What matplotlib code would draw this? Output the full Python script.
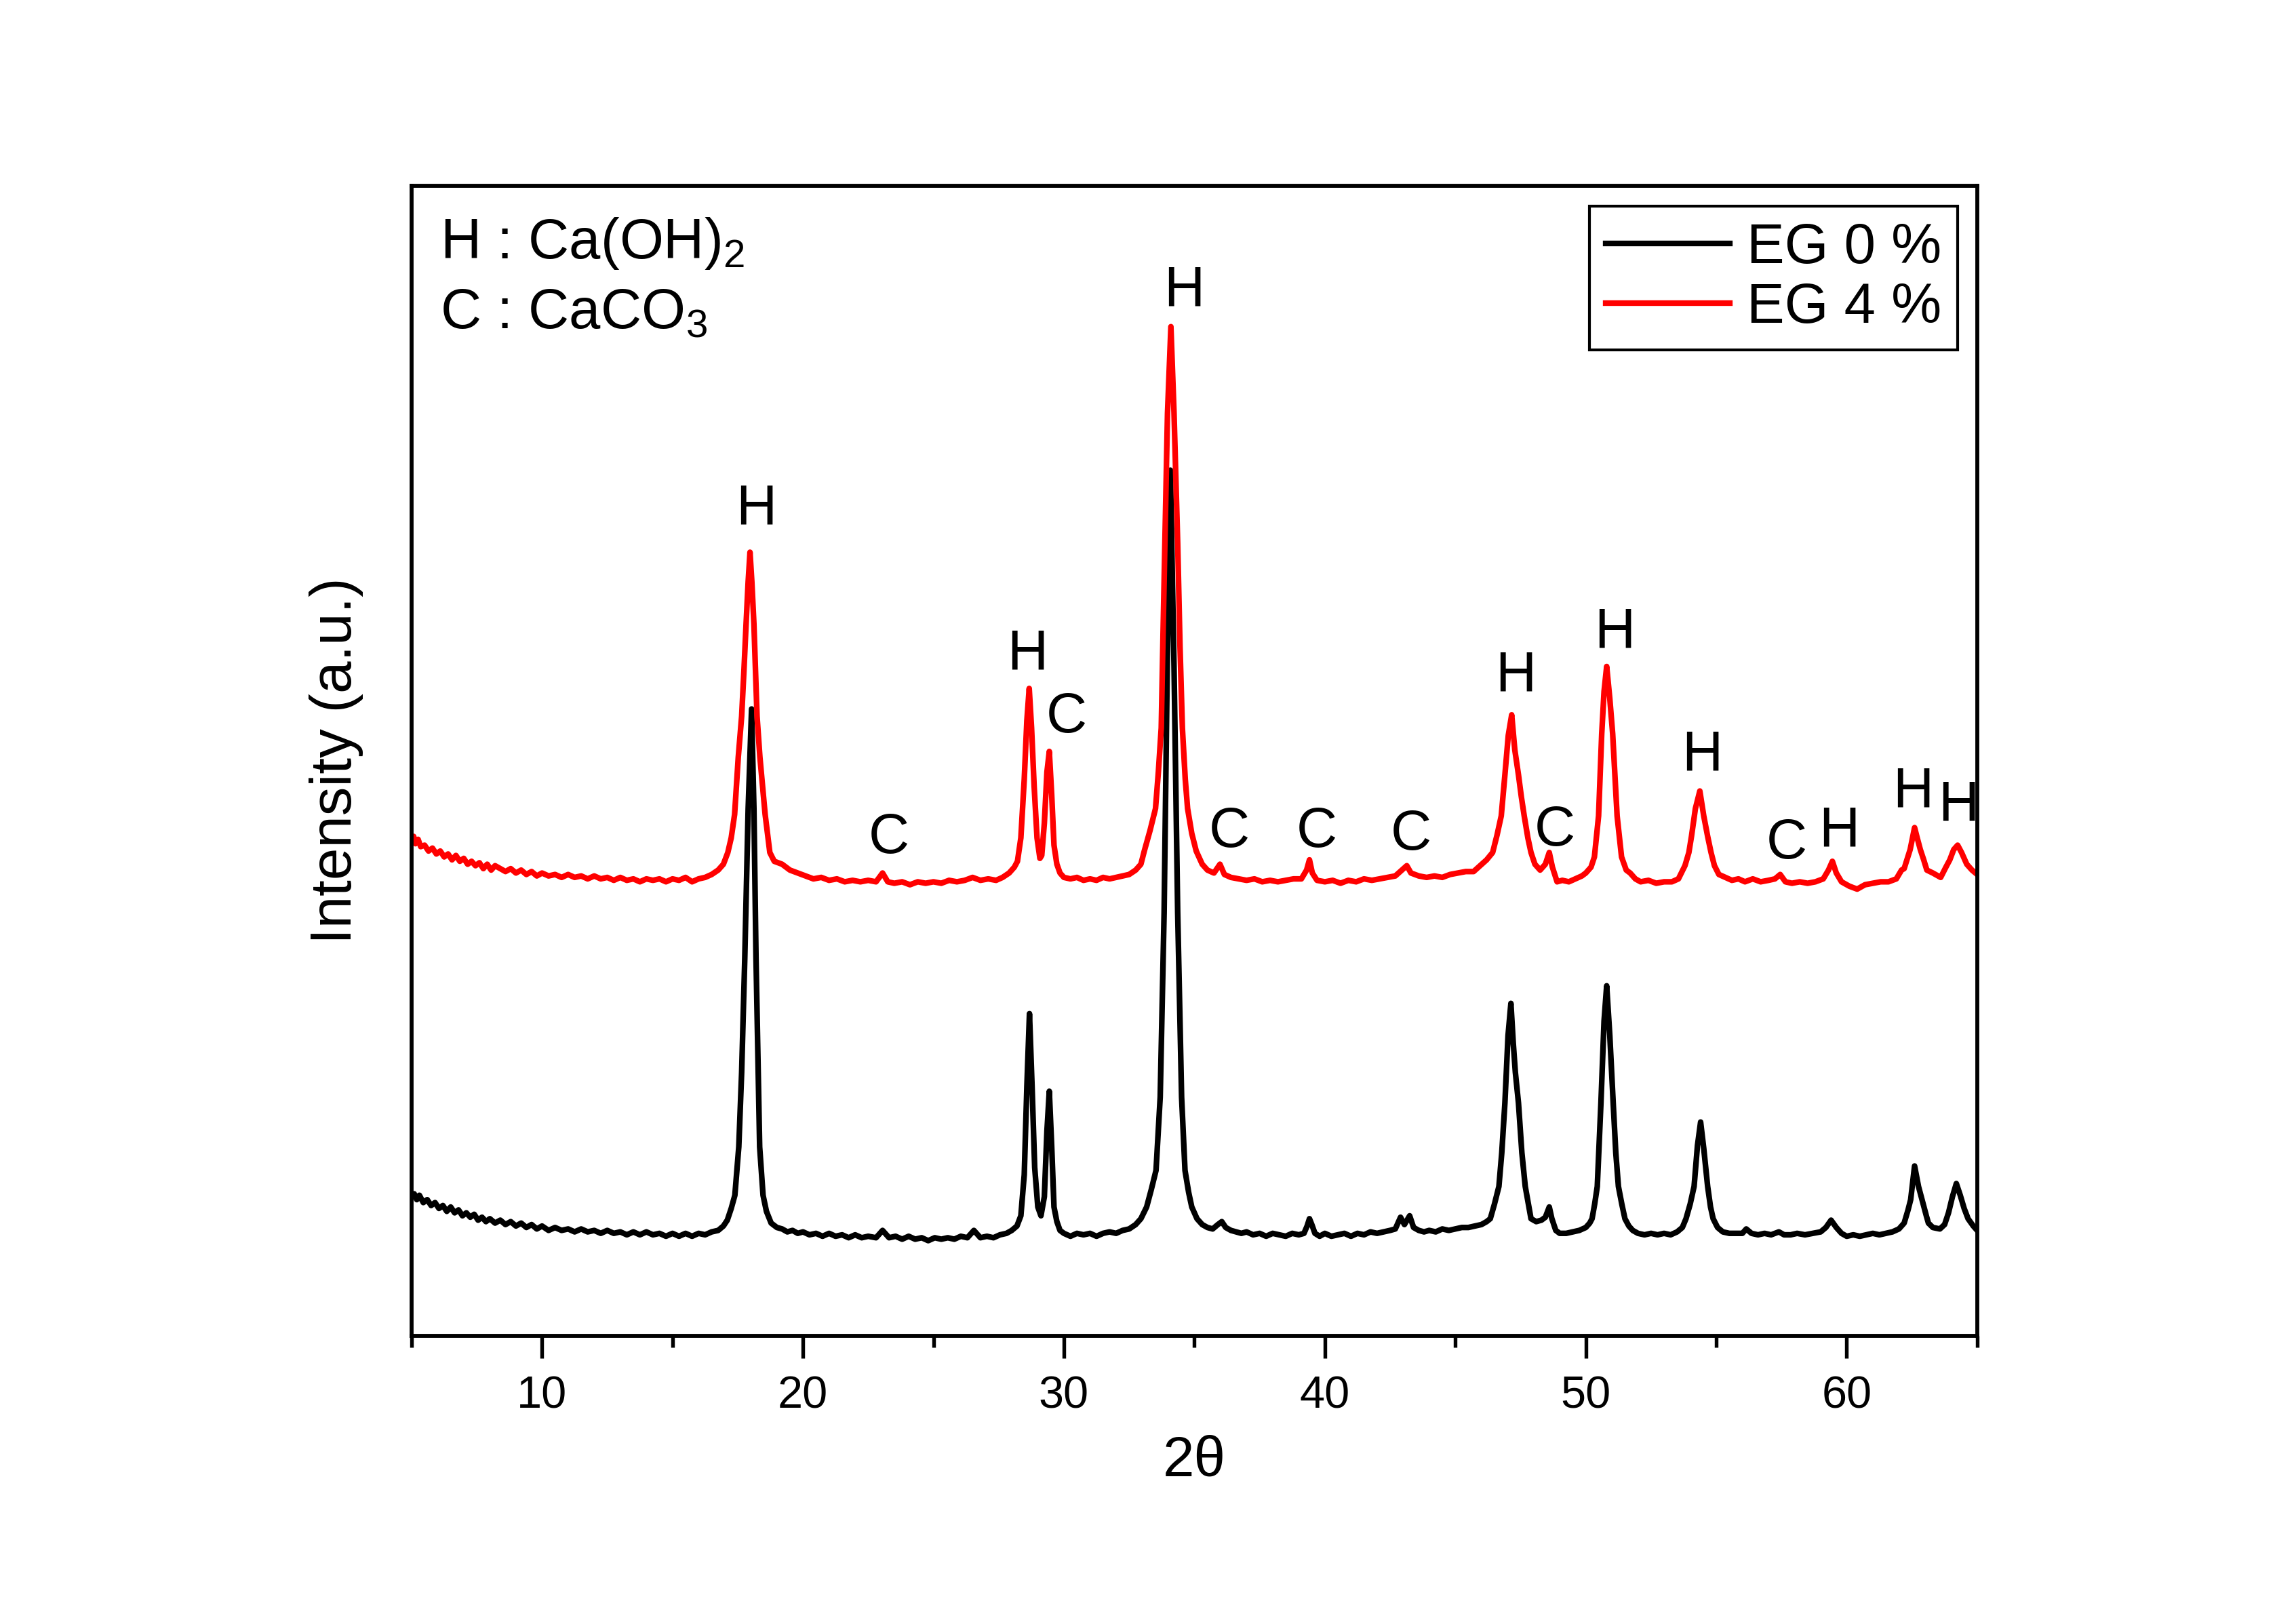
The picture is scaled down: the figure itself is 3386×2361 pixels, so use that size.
import matplotlib
matplotlib.use("Agg")
import matplotlib.pyplot as plt
from matplotlib.ticker import MultipleLocator

plt.rcParams['font.family'] = ['Liberation Sans', 'DejaVu Sans']
plt.rcParams['mathtext.fontset'] = 'custom'
plt.rcParams['mathtext.rm'] = 'Liberation Sans'

# ---- data (2theta, intensity in arbitrary units) ----
eg0_x = [5.00, 5.10, 5.20, 5.30, 5.45, 5.60, 5.75, 5.90, 6.05, 6.20, 6.35, 6.50, 6.65, 6.80, 6.95,
         7.10, 7.25, 7.40, 7.55, 7.70, 7.85, 8.00, 8.20, 8.40, 8.60, 8.80, 9.00, 9.20, 9.40, 9.60,
         9.80, 10.00, 10.25, 10.50, 10.75, 11.00, 11.25, 11.50, 11.75, 12.00, 12.25, 12.50, 12.75,
         13.00, 13.25, 13.50, 13.75, 14.00, 14.25, 14.50, 14.75, 15.00, 15.25, 15.50, 15.75, 16.00,
         16.25, 16.50, 16.75, 16.95, 17.10, 17.25, 17.39, 17.54, 17.65, 17.77, 17.90, 18.03, 18.12,
         18.20, 18.34, 18.47, 18.60, 18.78, 19.00, 19.20, 19.40, 19.60, 19.80, 20.00, 20.25, 20.50,
         20.75, 21.00, 21.25, 21.50, 21.75, 22.00, 22.25, 22.50, 22.80, 23.05, 23.30, 23.55, 23.80,
         24.05, 24.30, 24.55, 24.80, 25.05, 25.30, 25.55, 25.80, 26.05, 26.30, 26.55, 26.80, 27.05,
         27.30, 27.55, 27.80, 28.00, 28.20, 28.35, 28.48, 28.58, 28.68, 28.78, 28.88, 29.00, 29.12,
         29.25, 29.35, 29.44, 29.53, 29.62, 29.73, 29.85, 30.00, 30.25, 30.50, 30.75, 31.00, 31.25,
         31.50, 31.75, 32.00, 32.25, 32.50, 32.75, 32.95, 33.17, 33.35, 33.53, 33.69, 33.84, 33.96,
         34.08, 34.22, 34.36, 34.51, 34.64, 34.78, 34.90, 35.10, 35.30, 35.50, 35.70, 35.90, 36.05,
         36.20, 36.40, 36.60, 36.80, 37.00, 37.25, 37.50, 37.75, 38.00, 38.25, 38.50, 38.75, 39.00,
         39.20, 39.32, 39.41, 39.50, 39.62, 39.80, 40.00, 40.25, 40.50, 40.75, 41.00, 41.25, 41.50,
         41.75, 42.00, 42.25, 42.50, 42.70, 42.90, 43.05, 43.25, 43.40, 43.60, 43.80, 44.00, 44.25,
         44.50, 44.75, 45.00, 45.25, 45.50, 45.75, 46.00, 46.20, 46.34, 46.50, 46.67, 46.78, 46.90,
         47.02, 47.13, 47.22, 47.30, 47.42, 47.55, 47.68, 47.80, 47.90, 48.10, 48.30, 48.45, 48.60,
         48.70, 48.85, 49.00, 49.25, 49.50, 49.75, 50.00, 50.15, 50.24, 50.34, 50.44, 50.58, 50.70,
         50.80, 50.92, 51.05, 51.15, 51.25, 51.38, 51.50, 51.65, 51.80, 52.00, 52.25, 52.50, 52.75,
         53.00, 53.25, 53.50, 53.70, 53.84, 54.00, 54.15, 54.28, 54.40, 54.52, 54.67, 54.78, 54.88,
         55.05, 55.25, 55.50, 55.75, 56.00, 56.15, 56.35, 56.60, 56.85, 57.10, 57.40, 57.60, 57.85,
         58.10, 58.40, 58.70, 59.00, 59.20, 59.40, 59.60, 59.80, 60.00, 60.25, 60.50, 60.75, 61.00,
         61.25, 61.50, 61.75, 62.00, 62.20, 62.35, 62.45, 62.60, 62.75, 62.90, 63.05, 63.13, 63.30,
         63.57, 63.75, 63.90, 64.05, 64.20, 64.35, 64.50, 64.65, 64.85, 65.00]
eg0_y = [95, 97, 93, 96, 91, 93, 89, 91, 87, 89, 85, 88, 84, 86, 82,
         84, 81, 83, 79, 81, 78, 80, 77, 79, 76, 78, 75, 77, 74, 76,
         73, 75, 72, 74, 72, 73, 71, 73, 71, 72, 70, 72, 70,
         71, 69, 71, 69, 71, 69, 70, 68, 70, 68, 70, 68, 70,
         69, 71, 72, 75, 79, 87, 96, 129, 180, 258, 360, 428, 360,
         258, 129, 96, 85, 77, 74, 73, 71, 72, 70, 71, 69, 70,
         68, 70, 68, 69, 67, 69, 67, 68, 67, 72, 67, 68, 66,
         68, 66, 67, 65, 67, 66, 67, 66, 68, 67, 72, 67, 68,
         67, 69, 70, 72, 75, 82, 110, 170, 220, 170, 115, 88, 82,
         95, 140, 167, 130, 88, 78, 72, 70, 68, 70, 69, 70, 68,
         70, 71, 70, 72, 73, 76, 80, 88, 100, 113, 163, 289, 457,
         591, 457, 289, 163, 113, 98, 88, 80, 76, 74, 73, 76, 78,
         74, 72, 71, 70, 71, 69, 70, 68, 70, 69, 68, 70, 69,
         70, 75, 80, 76, 70, 68, 70, 68, 69, 70, 68, 70, 69,
         71, 70, 71, 72, 73, 81, 76, 82, 74, 72, 71, 72, 71,
         73, 72, 73, 74, 74, 75, 76, 78, 80, 90, 102, 125, 159,
         205, 227, 200, 180, 159, 125, 102, 90, 80, 78, 79, 81, 88,
         80, 72, 70, 70, 71, 72, 74, 77, 80, 90, 102, 159, 215,
         239, 205, 159, 125, 102, 90, 80, 75, 72, 70, 69, 70, 69,
         70, 69, 71, 74, 80, 90, 102, 130, 146, 128, 102, 88, 80,
         74, 71, 70, 70, 70, 73, 70, 69, 70, 69, 71, 69, 69,
         70, 69, 70, 71, 74, 79, 74, 70, 68, 69, 68, 69, 70,
         69, 70, 71, 73, 77, 86, 93, 116, 102, 92, 82, 77, 74,
         73, 76, 84, 95, 104, 96, 87, 80, 75, 72]

eg4_x = [5.00, 5.08, 5.15, 5.25, 5.35, 5.50, 5.65, 5.80, 5.95, 6.10, 6.25, 6.40, 6.55, 6.70, 6.85,
         7.00, 7.15, 7.30, 7.45, 7.60, 7.75, 7.90, 8.05, 8.20, 8.40, 8.60, 8.80, 9.00, 9.20, 9.40,
         9.60, 9.80, 10.00, 10.25, 10.50, 10.75, 11.00, 11.25, 11.50, 11.75, 12.00, 12.25, 12.50,
         12.75, 13.00, 13.25, 13.50, 13.75, 14.00, 14.25, 14.50, 14.75, 15.00, 15.25, 15.50, 15.75,
         16.00, 16.25, 16.50, 16.75, 16.95, 17.12, 17.25, 17.38, 17.52, 17.65, 17.74, 17.82, 17.90,
         17.97, 18.04, 18.12, 18.18, 18.24, 18.35, 18.55, 18.73, 18.90, 19.20, 19.50, 19.80, 20.10,
         20.40, 20.70, 21.00, 21.30, 21.60, 21.90, 22.20, 22.50, 22.80, 23.05, 23.25, 23.50, 23.80,
         24.10, 24.40, 24.70, 25.00, 25.30, 25.60, 25.90, 26.20, 26.50, 26.80, 27.10, 27.40, 27.65,
         27.90, 28.10, 28.22, 28.35, 28.48, 28.58, 28.67, 28.76, 28.86, 28.97, 29.08, 29.15, 29.25,
         29.35, 29.44, 29.53, 29.62, 29.73, 29.85, 30.00, 30.25, 30.50, 30.75, 31.00, 31.25, 31.50,
         31.75, 32.00, 32.25, 32.50, 32.75, 32.95, 33.08, 33.30, 33.51, 33.62, 33.73, 33.80, 33.87,
         33.97, 34.10, 34.22, 34.36, 34.45, 34.54, 34.65, 34.74, 34.90, 35.07, 35.30, 35.50, 35.75,
         35.98, 36.15, 36.40, 36.70, 37.00, 37.30, 37.60, 37.90, 38.20, 38.50, 38.80, 39.10, 39.30,
         39.41, 39.52, 39.70, 40.00, 40.30, 40.60, 40.90, 41.20, 41.50, 41.80, 42.10, 42.40, 42.70,
         42.95, 43.14, 43.30, 43.60, 43.90, 44.20, 44.50, 44.80, 45.10, 45.40, 45.70, 45.95, 46.20,
         46.43, 46.60, 46.76, 46.90, 47.03, 47.16, 47.28, 47.42, 47.53, 47.64, 47.78, 47.90, 48.05,
         48.25, 48.45, 48.60, 48.72, 48.90, 49.10, 49.35, 49.60, 49.85, 50.00, 50.20, 50.33, 50.49,
         50.61, 50.70, 50.80, 50.92, 51.03, 51.20, 51.37, 51.55, 51.70, 51.90, 52.10, 52.40, 52.70,
         53.00, 53.30, 53.55, 53.80, 53.95, 54.05, 54.20, 54.37, 54.52, 54.67, 54.80, 54.93, 55.10,
         55.35, 55.60, 55.85, 56.10, 56.40, 56.70, 57.00, 57.25, 57.45, 57.65, 57.90, 58.20, 58.50,
         58.80, 59.10, 59.30, 59.45, 59.60, 59.80, 60.10, 60.40, 60.70, 61.00, 61.30, 61.60, 61.90,
         62.10, 62.20, 62.43, 62.60, 62.70, 62.82, 62.95, 63.07, 63.30, 63.60, 63.80, 63.95, 64.10,
         64.25, 64.40, 64.60, 64.80, 65.00]
eg4_y = [338, 341, 336, 339, 334, 335, 331, 333, 329, 331, 327, 329, 325, 328, 324,
         326, 322, 324, 321, 323, 319, 322, 318, 321, 319, 317, 319, 316, 318, 315,
         317, 314, 316, 314, 315, 313, 315, 313, 314, 312, 314, 312, 313,
         311, 313, 311, 312, 310, 312, 311, 312, 310, 312, 311, 313, 310,
         312, 313, 315, 318, 322, 330, 340, 356, 395, 423, 455, 486, 515,
         535, 515, 486, 455, 423, 395, 356, 330, 324, 322, 318, 316, 314,
         312, 313, 311, 312, 310, 311, 310, 311, 310, 316, 310, 309, 310,
         308, 310, 309, 310, 309, 311, 310, 311, 313, 311, 312, 311, 313,
         316, 320, 324, 340, 380, 420, 442, 415, 375, 340, 326, 328, 350,
         385, 399, 370, 335, 322, 316, 313, 312, 313, 311, 312, 311, 313,
         312, 313, 314, 315, 318, 322, 331, 345, 360, 385, 415, 480, 541,
         630, 689, 630, 541, 470, 415, 380, 360, 343, 331, 322, 318, 316,
         322, 315, 313, 312, 311, 312, 310, 311, 310, 311, 312, 312, 318,
         325, 316, 311, 310, 311, 309, 311, 310, 312, 311, 312, 313, 314,
         318, 321, 316, 314, 313, 314, 313, 315, 316, 317, 317, 321, 325,
         330, 342, 355, 383, 410, 424, 400, 383, 368, 355, 340, 330, 322,
         318, 322, 330, 320, 310, 311, 310, 312, 314, 316, 320, 327, 355,
         411, 440, 457, 435, 411, 355, 327, 318, 316, 312, 310, 311, 309,
         310, 310, 312, 321, 330, 341, 360, 372, 355, 341, 330, 321, 315,
         313, 311, 312, 310, 312, 310, 311, 312, 315, 310, 309, 310, 309,
         310, 312, 318, 324, 316, 310, 307, 305, 308, 309, 310, 310, 312,
         318, 319, 332, 347, 340, 332, 325, 318, 316, 313, 320, 325, 332,
         335, 330, 322, 318, 315]

series_labels = ['EG 0 %', 'EG 4 %']
series_colors = ['#000000', '#ff0000']

peak_labels = ['H', 'C', 'H', 'C', 'H', 'C', 'C', 'C', 'H', 'C', 'H', 'H', 'C', 'H', 'H', 'H']
peak_label_x = [18.2, 23.3, 28.6, 30.1, 34.6, 36.35, 39.7, 43.3, 47.3, 48.8, 51.1, 54.45, 57.7,
                59.7, 62.53, 64.27]
peak_label_y = [564, 340, 465, 422, 713, 344, 344, 342, 450, 345, 480, 396, 336, 344, 371, 362]

x_ticks = [10, 20, 30, 40, 50, 60]

# ---- figure ----
fig = plt.figure(figsize=(3387 / 300, 2361 / 300), dpi=300)
ax = fig.add_axes([0.1792, 0.1656, 0.6817, 0.7182])

ax.plot(eg0_x, eg0_y, color=series_colors[0], lw=2.0, label=series_labels[0])
ax.plot(eg4_x, eg4_y, color=series_colors[1], lw=2.0, label=series_labels[1])

for t, px, py in zip(peak_labels, peak_label_x, peak_label_y):
    ax.text(px, py, t, ha='center', va='center', fontsize=20, color='black')

ax.text(0.018, 0.950, r'H : Ca(OH)$_\mathregular{2}$', transform=ax.transAxes,
        ha='left', va='center', fontsize=20)
ax.text(0.018, 0.889, r'C : CaCO$_\mathregular{3}$', transform=ax.transAxes,
        ha='left', va='center', fontsize=20)

ax.set_xlim(5, 65)
ax.set_ylim(0, 785)
ax.set_xticks(x_ticks)
ax.xaxis.set_minor_locator(MultipleLocator(5))
ax.tick_params(axis='x', which='major', direction='out', length=8, width=1.3,
               labelsize=16, pad=6, top=False)
ax.tick_params(axis='x', which='minor', direction='out', length=4, width=1.3, top=False)
ax.set_yticks([])
for s in ax.spines.values():
    s.set_linewidth(1.4)

ax.set_xlabel('2θ', fontsize=20, labelpad=6)
ax.set_ylabel('Intensity (a.u.)', fontsize=20.5, labelpad=17)

leg = ax.legend(loc='upper right', fontsize=20, frameon=True, fancybox=False,
                edgecolor='black', framealpha=1, handlelength=2.2, handletextpad=0.3,
                labelspacing=0.12, borderpad=0.28, borderaxespad=0.35)
leg.get_frame().set_linewidth(1.0)

fig.savefig('out.png', dpi=300)
